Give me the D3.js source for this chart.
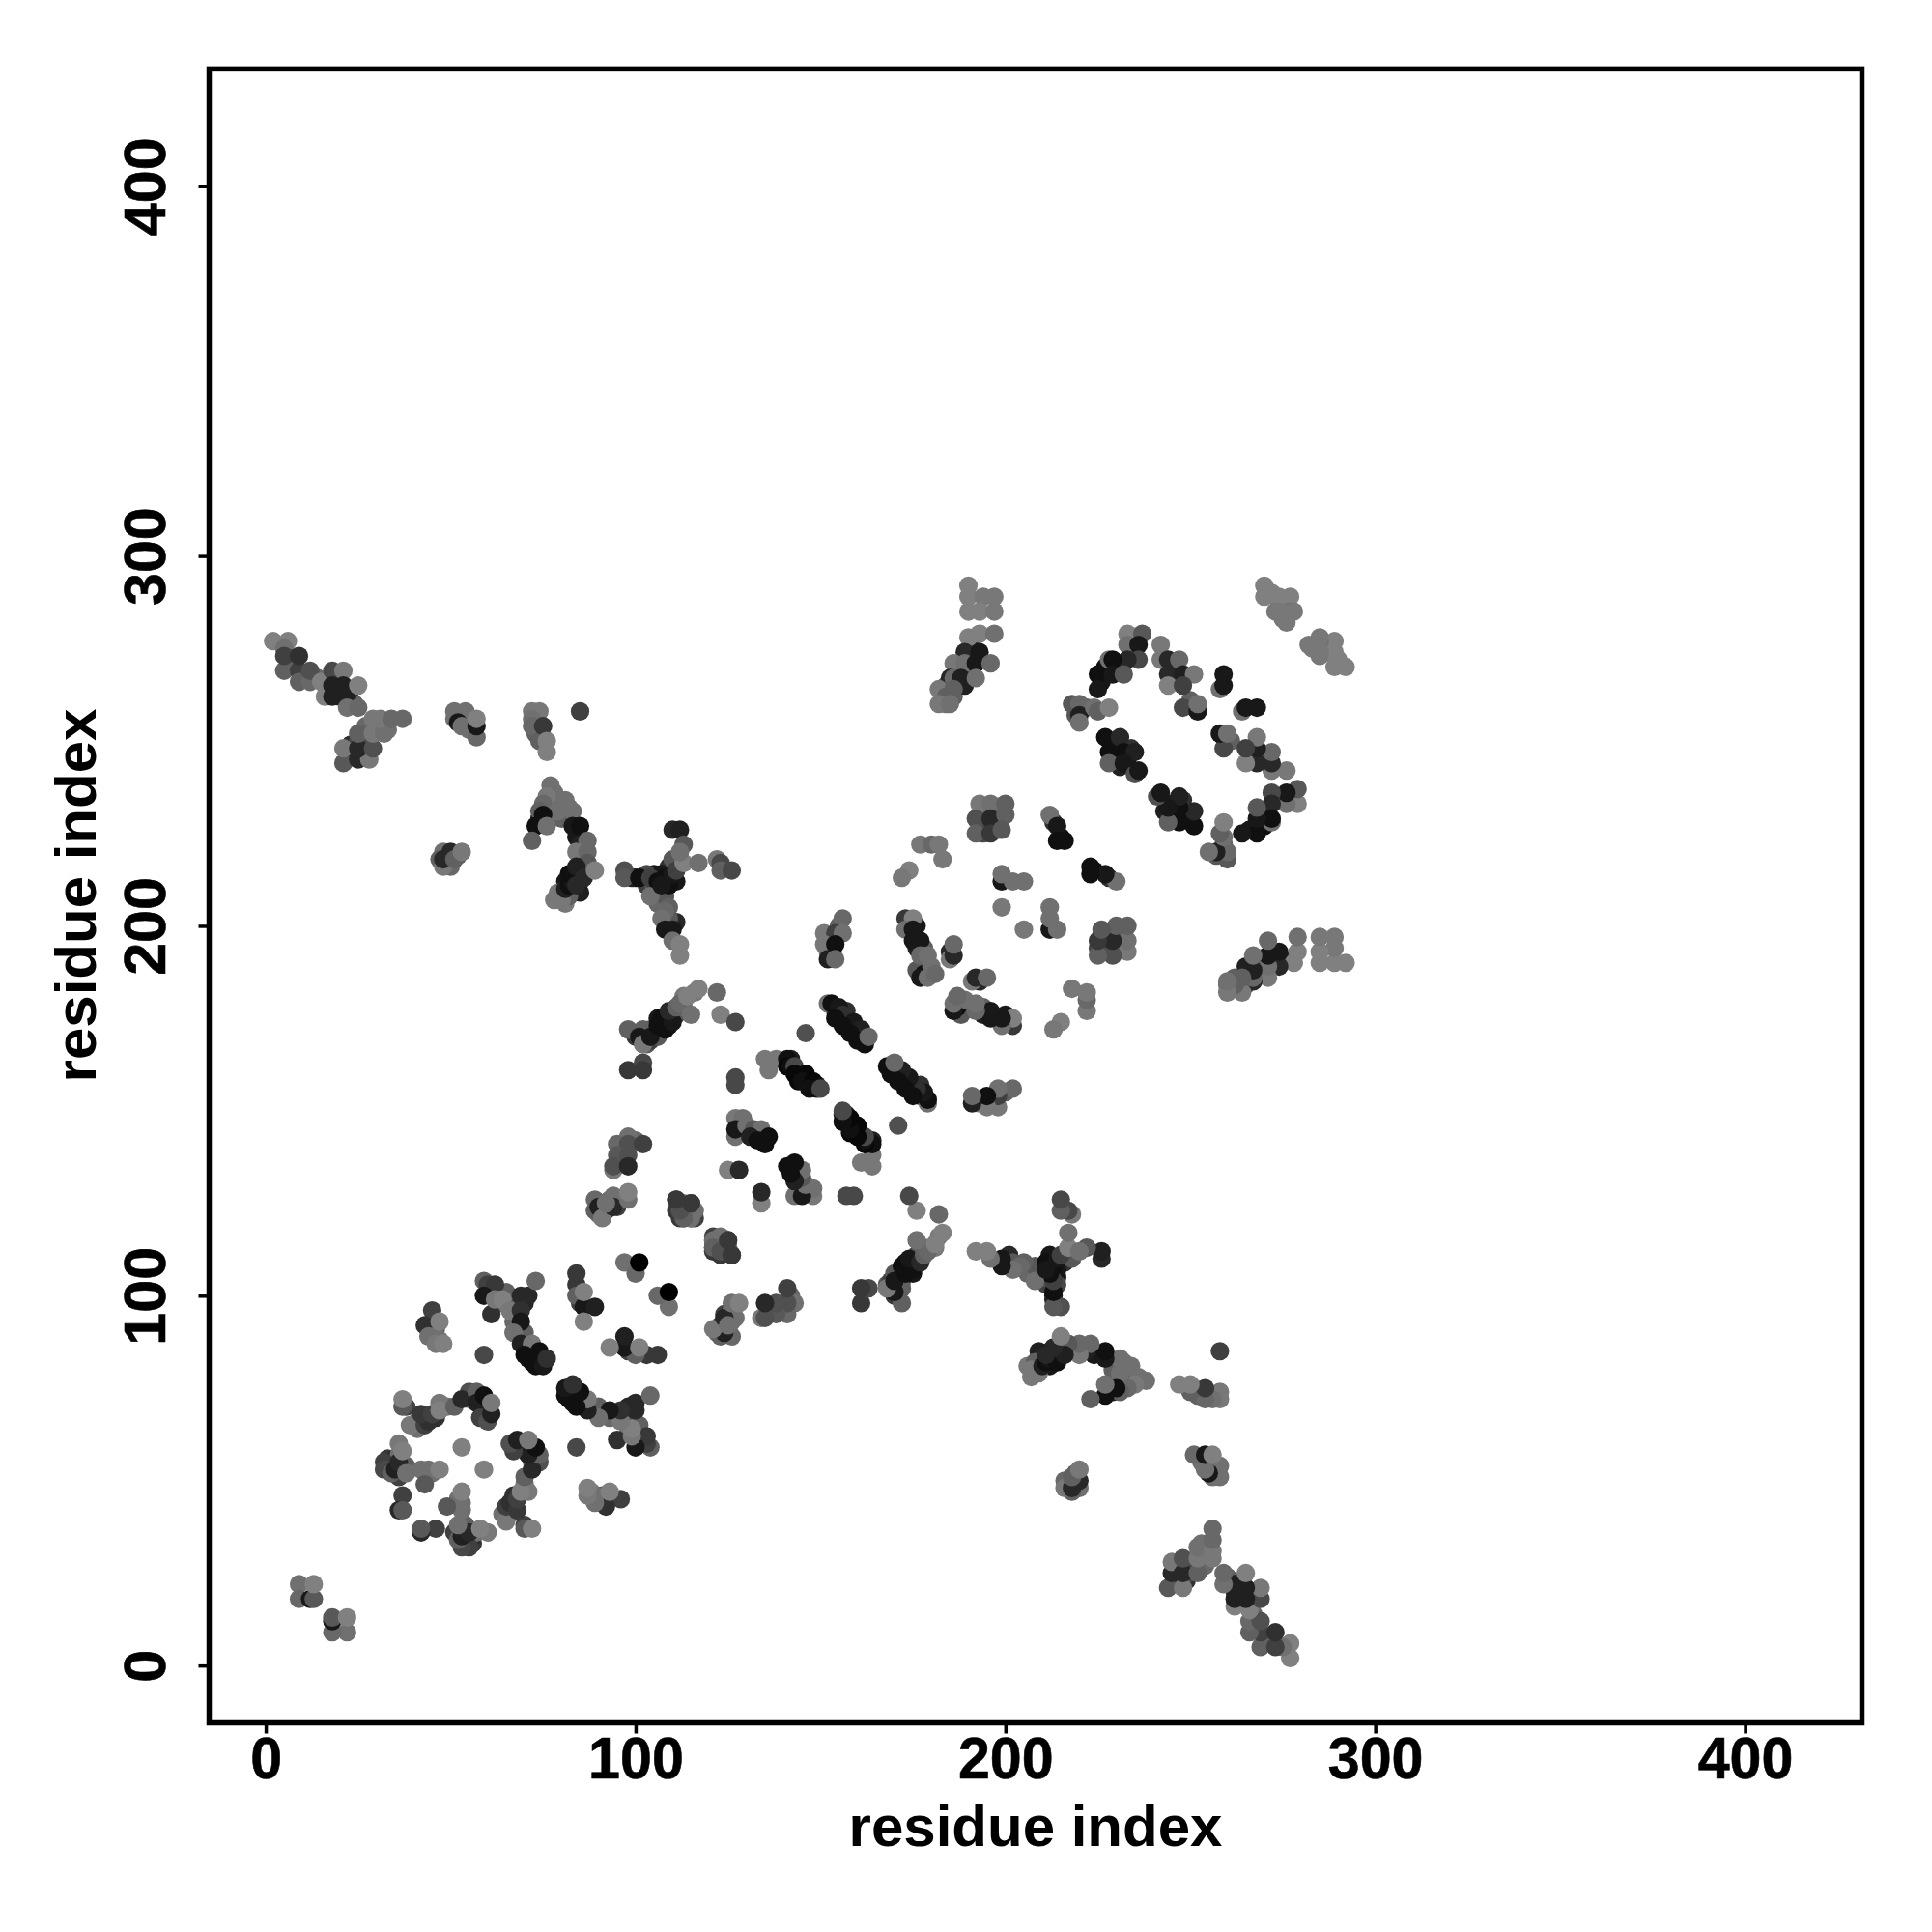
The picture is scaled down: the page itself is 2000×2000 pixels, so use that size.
<!DOCTYPE html>
<html><head><meta charset="utf-8">
<script src="https://cdn.jsdelivr.net/npm/d3@7/dist/d3.min.js"></script>
<style>html,body{margin:0;background:#fff}svg{display:block}</style></head>
<body><div id="chart"></div>
<script>
// Each contact: [residue i, residue j, grey level 0..128]; map is symmetric, i<j listed.
const tickValues = [0,100,200,300,400];
const axisTitle = "residue index";
const denseF = [[103,211,64],[105,210,88],[106,208,104],[106,206,104],[108,208,88],[109,216,48],[111,212,24],[109,211,16],[105,214,24],[103,214,72],[107,214,24],[112,217,96],[110,218,88],[109,205,96],[111,201,40],[109,202,88],[100,213,16],[99,213,32]];
const denseG = [[103,168,88],[104,172,88],[105,172,40],[106,175,24],[105,171,16],[108,175,24],[109,173,16],[110,176,32],[111,176,48],[112,177,88],[113,178,104],[113,181,120],[116,182,120],[100,170,56],[104,169,64]];
const denseE = [[83,209,32],[85,209,32],[85,212,24],[81,212,24],[83,214,16],[85,215,56],[86,218,96],[85,218,112],[86,222,72],[84,224,24],[78,233,96],[78,236,112],[80,229,96],[77,231,104],[82,232,112],[78,207,120],[81,206,120],[82,208,96],[74,229,32]];
const denseRing = [[46,67,48],[41,66,88],[43,67,48],[41,64,112],[38,70,64],[49,70,112],[55,72,96],[55,74,80],[59,71,48],[59,69,32],[60,70,32],[59,67,48],[36,52,56],[33,54,48],[33,56,56],[35,56,40],[36,57,112],[34,53,72],[36,51,64],[38,54,96],[44,53,112],[45,52,112]];
const denseQ = [[70,87,32],[71,85,16],[72,84,16],[74,83,16],[72,82,24],[70,90,96],[67,93,104],[68,97,80],[61,101,88],[63,98,112],[65,101,96],[71,83,16],[75,82,40],[70,98,40]];
const denseP = [[44,91,80],[45,90,96],[47,88,120],[45,92,64],[46,91,88]];
const denseD = [[49,219,64],[49,217,64],[50,216,104],[52,219,88]];
const denseV = [[187,269,64],[190,270,40],[191,273,24],[190,268,64],[187,265,96],[184,265,88],[183,263,96],[184,260,112],[183,261,96],[186,262,96],[189,265,32],[191,275,56]];
const denseA = [[7,272,48],[7,270,96],[11,268,72],[14,267,104],[19,264,32],[20,262,32],[23,264,32],[20,267,32],[23,261,40],[24,260,96],[23,249,48],[27,250,88],[30,254,112],[31,254,112],[27,254,104],[23,246,40],[25,250,72],[33,253,112]];
const denseBC = [[53,256,24],[54,256,104],[55,253,112],[52,257,88],[55,255,96],[73,252,96],[73,255,120],[75,251,104]];
const denseMid = [[128,146,96],[129,144,48],[132,143,24],[134,143,24],[129,147,112],[97,139,72],[96,136,64],[100,142,104],[96,139,88],[97,136,48],
 [90,122,112],[92,123,56],[91,125,112],[93,126,112],[95,124,64],[96,126,112],[112,125,56],[114,122,56],[112,121,56],[116,121,64],[113,125,112],[113,122,72],[114,123,88],[113,124,104],[85,98,64]];
const denseStripes = [[142,164,32],[144,160,32],[145,160,48],[147,158,48],[144,158,8],[149,157,32],[154,177,24],[157,175,16],[158,173,32],[160,172,16],[161,170,16],[157,177,48],[155,176,32]];
const denseW = [[227,270,16],[227,268,16],[226,266,24],[230,270,32],[222,259,96],[219,257,88],[230,249,16],[230,246,16],[233,245,24],[234,248,48],[229,250,24],[231,243,32],[246,270,48],[245,271,88],[246,266,88],[251,259,40],[250,261,96]];
const denseZ = [[194,231,96],[198,232,96],[194,227,72],[198,228,64],[194,225,72],[198,226,88],[213,228,48],[215,224,16],[176,200,24],[176,194,32],[178,194,96],[178,190,112],[176,188,88],[178,187,16],[180,189,112],[185,193,40],[152,193,120],[153,193,32],[155,200,96],[275,287,120],[276,284,112],[275,283,120],[272,290,128]];
const nearStart = [[9,22,112],[9,18,104],[12,18,24],[13,18,88],[13,22,128]];
const ringLow = [[37,70,88],[37,72,128],[39,65,120],[43,65,64],[44,66,48],[42,68,56],[45,68,64],[47,71,120],[47,69,128],
 [51,70,96],[53,72,40],[57,74,96],[57,71,32],[59,73,16],[58,67,64],[60,66,80],[61,68,32],[61,71,120],
 [36,60,120],[32,55,64],[32,53,72],[34,52,96],[35,53,32],[36,55,40],[37,58,128],[38,52,112],[42,53,112],[43,49,88],[47,53,128],
 [37,46,64],[36,42,40],[37,42,88],[53,59,128]];
const clusterP = [[45,96,64],[43,92,48],[44,89,112],[46,89,112],[46,87,120],[48,87,128],[47,93,128]];
const clusterQ = [[59,104,96],[60,103,64],[62,103,56],[59,100,24],[61,95,48],[62,99,120],[64,99,128],[66,96,120],
 [69,100,40],[71,100,40],[73,104,104],[69,96,48],[69,93,24],[67,90,112],[69,87,32],[72,87,120],[70,84,16],[74,85,16],[73,81,16],[75,81,24],[76,83,48],[59,84,72]];
const clusterR = [[84,106,56],[84,103,56],[84,100,96],[86,97,24],[89,97,32],[86,101,128],[86,93,128],[97,109,112],[100,106,104],[101,109,0]];
const clusterK = [[98,143,112],[95,141,104],[98,141,80],[102,141,64],[95,138,88],[98,138,80],[94,134,120],[94,135,80],[98,135,40]];
const clusterL = [[89,126,104],[94,127,112],[89,123,96],[90,124,32],[91,121,120],[94,124,40],[92,125,112],[98,126,112],[98,128,128]];
const clusterM = [[111,126,56],[115,125,56],[111,123,56],[113,123,72],[113,121,40],[115,121,48],[116,123,112]];
const clusterN = [[115,121,112],[115,122,112],[113,121,96],[112,123,80],[115,125,56],[111,126,56]];
const clusterI = [[127,148,120],[129,148,112],[127,143,112],[127,145,24],[130,146,112],[132,145,88],[134,145,112],[131,143,32],[133,142,16],[135,141,16],[136,143,16],[125,134,128],[128,134,40]];
const clusterH = [[127,159,72],[127,157,72],[135,164,120],[136,161,120],[138,164,120],[146,171,80]];
const stripeOne = [[141,164,16],[141,162,8],[142,162,16],[143,162,72],[143,160,8],[146,160,8],[145,158,16],[148,158,8],[147,156,16],[149,156,16],[150,156,72]];
const stripeTwo = [[152,179,112],[153,179,16],[155,178,24],[156,176,48],[154,175,16],[159,174,24],[156,173,16],[161,172,32],[158,171,16],[160,169,16],[162,168,16],[163,170,104]];
const clusterG = [[98,172,96],[102,172,96],[101,170,24],[102,168,120],[98,161,56],[102,163,72],[102,161,56],[106,170,88],[104,170,24],[106,173,16],[108,172,16],[107,175,16],[110,174,24],[109,177,40],[111,178,96],[112,179,104],[115,176,112],[114,181,128],[117,183,128],[122,182,104],[123,176,128],[127,174,72]];
const clusterF = [[97,215,80],[97,213,88],[101,213,16],[104,213,64],[106,212,16],[104,208,112],[108,213,16],[107,211,24],[110,214,24],[111,215,64],[113,217,128],[117,217,112],
 [110,226,40],[112,226,32],[113,222,88],[112,220,112],[108,204,104],[107,202,112],[108,199,24],[110,199,24],[110,196,112],[112,195,128],[112,192,128],[122,218,120],[123,217,72],[123,215,96],[126,215,72]];
const clusterA = [[5,269,96],[9,269,64],[9,266,96],[12,266,104],[2,277,128],[6,277,128],[5,275,112],[5,273,64],[9,273,48],[12,269,80],[15,266,128],[16,262,128],
 [18,269,72],[21,269,120],[18,265,32],[18,262,32],[21,265,32],[22,262,32],[22,259,112],[25,265,128],[25,259,104],
 [21,244,88],[25,245,40],[28,245,120],[21,248,120],[25,248,40],[29,248,80],[25,252,96],[29,252,120],[32,252,112],[29,256,120],[31,256,120],[34,256,104],[37,256,104]];
const clusterB = [[51,258,112],[51,256,112],[54,258,112],[52,255,24],[53,254,112],[57,251,104],[57,254,24],[57,256,128]];
const clusterC = [[72,258,120],[74,258,120],[72,256,112],[72,254,104],[74,250,96],[75,254,56],[76,250,128],[76,247,128],[85,258,64]];
const clusterD = [[48,220,112],[47,218,96],[48,216,120],[48,218,40],[50,220,40],[51,218,96],[53,220,120]];
const clusterE = [[77,238,112],[76,235,120],[75,233,104],[81,234,112],[79,231,112],[83,231,112],[74,231,96],[75,230,16],[73,227,16],[76,227,112],[72,223,96],
 [83,227,24],[85,227,16],[85,222,32],[87,223,104],[84,220,120],[87,220,104],[87,217,88],[79,209,120],[80,207,120],[81,210,32],[82,211,16],[83,212,24],[82,214,16],[84,216,32],[84,211,40],[86,213,40],[89,215,128]];
const clusterV = [[190,292,128],[190,289,128],[194,289,120],[197,289,120],[190,285,128],[193,285,128],[197,285,120],[190,278,128],[193,279,128],[197,279,112],
 [189,274,40],[193,274,24],[186,271,120],[189,271,112],[192,271,24],[196,271,104],[185,267,40],[186,267,104],[188,267,32],[192,267,112],[182,264,120],[186,264,96],[184,262,96],[182,260,120],[185,260,112]];
const clusterW = [[233,279,128],[237,279,88],[233,276,112],[236,276,24],[236,272,72],[233,272,40],[228,272,112],[229,272,16],[225,268,16],[229,268,24],[232,268,88],[225,264,24],
 [218,260,88],[220,260,104],[220,257,32],[220,255,112],[224,259,112],[225,258,96],[228,259,128],
 [227,251,16],[231,251,40],[228,247,16],[232,247,16],[235,247,32],[228,244,96],[232,244,24],[235,241,80],[236,242,24]];
const clusterX = [[242,276,120],[242,272,120],[244,272,40],[247,272,104],[244,268,40],[248,268,32],[251,268,120],[244,265,128],[248,265,64],[248,259,72],[252,258,24],[252,260,112],[258,264,112],[259,268,24],[259,265,24]];
const clusterY = [[270,292,128],[270,289,128],[273,289,128],[277,289,128],[274,289,128],[273,285,120],[277,285,112],[278,285,120],[274,285,120],[276,282,120]];
const clusterZ = [[193,233,120],[196,233,112],[200,233,96],[192,229,80],[196,229,40],[200,230,96],[192,225,96],[196,225,56],[199,226,88],
 [212,230,112],[214,227,24],[214,223,16],[216,223,16],[199,212,24],[199,214,112],[202,212,112],[205,212,112],[199,205,120]];
const clusterS = [[177,222,120],[180,222,104],[182,222,120],[183,218,120],[174,215,128],[172,213,120],
 [173,202,56],[175,202,128],[173,199,112],[175,199,24],[175,196,24],[177,196,24],[177,192,104],[179,192,112],[177,186,24],[179,186,112],[181,187,104],[185,191,120],[186,192,40],[186,195,104]];
const clusterT = [[156,202,104],[151,198,120],[154,198,64],[156,198,112],[151,195,120],[154,195,16],[152,191,32],[154,191,104]];

const upperContacts = [].concat(denseF, denseG, denseE, denseRing, denseQ, denseP, denseD, denseV, denseA, denseBC, denseMid, denseStripes, denseW, denseZ,
  nearStart, ringLow, clusterP, clusterQ, clusterR, clusterK, clusterL, clusterM, clusterN, clusterI, clusterH,
  stripeOne, stripeTwo, clusterG, clusterF, clusterA, clusterB, clusterC, clusterD, clusterE, clusterV, clusterW, clusterX, clusterY, clusterZ, clusterS, clusterT);
const contacts = upperContacts.concat(upperContacts.map(d => [d[1], d[0], d[2]]));

const svg = d3.select("#chart").append("svg").attr("width",2000).attr("height",2000);
const x = d3.scaleLinear().domain([-15.3,431.6]).range([216.5,1927.5]);
const y = d3.scaleLinear().domain([-15.5,431.7]).range([1783.5,71.4]);
const grey = d3.scaleLinear().domain([0,128]).range(["#000000","#808080"]);
const font = "'Liberation Sans', Arial, sans-serif";

svg.append("g").selectAll("circle").data(contacts).join("circle")
  .attr("cx",d=>x(d[0])).attr("cy",d=>y(d[1])).attr("r",9.6).attr("fill",d=>grey(d[2]));

const gx = svg.append("g").attr("transform","translate(0,1783.5)")
  .call(d3.axisBottom(x).tickValues(tickValues).tickSize(11).tickPadding(0).tickFormat(d3.format("d")));
const gy = svg.append("g").attr("transform","translate(216.5,0)")
  .call(d3.axisLeft(y).tickValues(tickValues).tickSize(11).tickPadding(0).tickFormat(d3.format("d")));
[gx,gy].forEach(g=>{
  g.select(".domain").remove();
  g.selectAll("line").attr("stroke","#000").attr("stroke-width",3.5);
  g.selectAll("text").attr("fill","#000").attr("stroke","#000").attr("stroke-width",0.6).attr("font-family",font).attr("font-weight",700).attr("font-size",61);
});
gx.selectAll("text").attr("y",null).attr("dy",null).attr("transform","translate(0,57) scale(0.97,1)").attr("text-anchor","middle");
gy.selectAll("text").attr("x",null).attr("dy",null).attr("transform","translate(-45.5,0) rotate(-90)").attr("text-anchor","middle");

svg.append("rect").attr("x",216.5).attr("y",71.4).attr("width",1927.5-216.5).attr("height",1783.5-71.4)
  .attr("fill","none").attr("stroke","#000").attr("stroke-width",5.5);

svg.append("text").attr("x",1072).attr("y",1911).attr("text-anchor","middle")
  .attr("font-family",font).attr("font-weight",700).attr("font-size",60).attr("fill","#000").text(axisTitle);
svg.append("text").attr("transform","translate(99,927) rotate(-90)").attr("text-anchor","middle")
  .attr("font-family",font).attr("font-weight",700).attr("font-size",60).attr("fill","#000").text(axisTitle);
</script></body></html>
